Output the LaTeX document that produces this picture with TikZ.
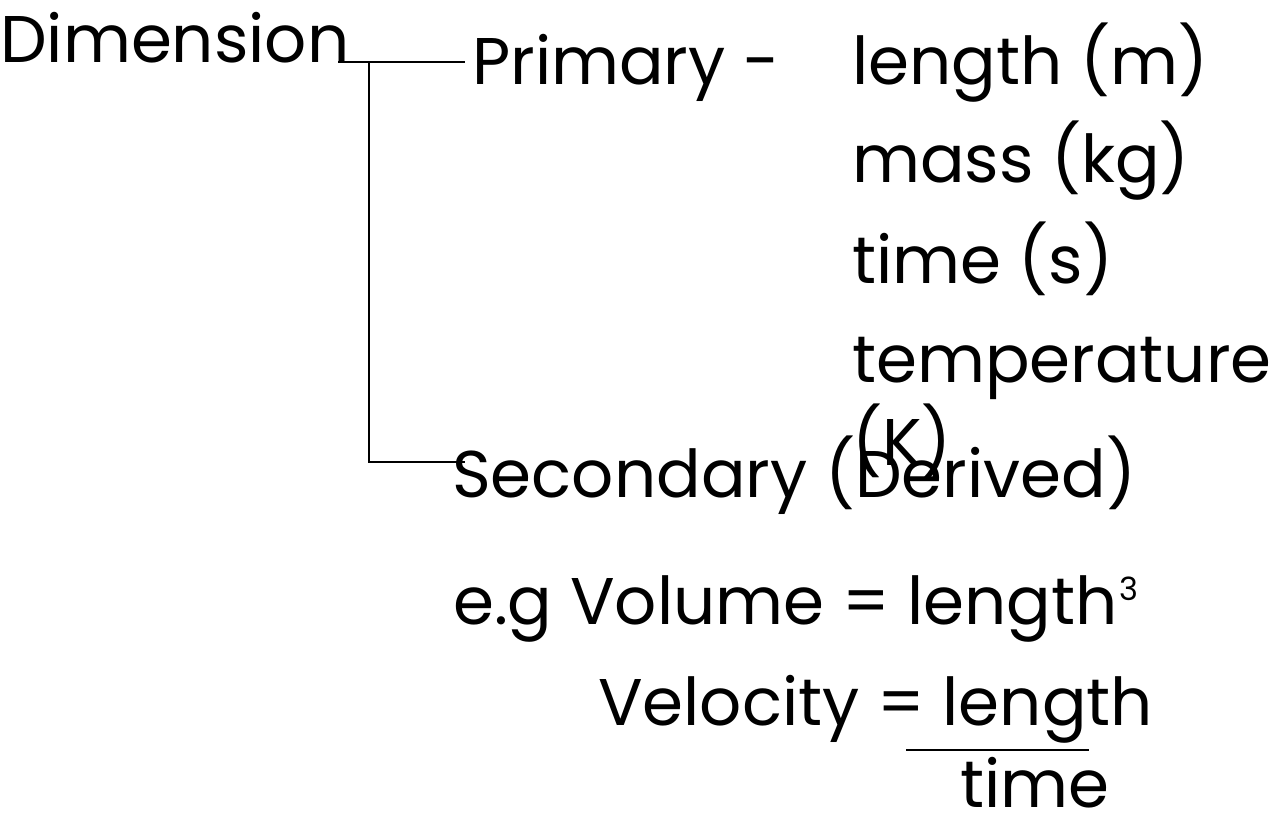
\documentclass[tikz,border=0pt]{standalone}
\usepackage{fontspec}
\setmainfont{Poppins}
\begin{document}
\begin{tikzpicture}[x=1pt,y=-1pt,
  txt/.style={anchor=base west,inner sep=0pt,font=\fontsize{66}{70}\selectfont},
  conn/.style={line width=1.3pt}]
\useasboundingbox (0,0) rectangle (1284,828);
\node[txt] (dim) at (0,62) {Dimension};
\node[txt] (pri) at (472,84) {Primary -};
\node[txt] (len) at (852,84) {length (m)};
\node[txt] (mass) at (852,182) {mass (kg)};
\node[txt] (time) at (852,283) {time (s)};
\node[txt] (temp) at (852,382) {temperature};
\node[txt] (k) at (852,465) {(K)};
\node[txt] (sec) at (452,497) {Secondary (Derived)};
\node[txt] (vol) at (453,624) {e.g Volume = length\kern2pt\raisebox{24pt}{\fontsize{32}{32}\selectfont 3}};
\node[txt] (vel) at (598,725) {Velocity = length};
\node[txt] (tm) at (960,807) {time};
\coordinate (a) at (338,62);
\coordinate (j) at (369,62);
\coordinate (b) at (465,62);
\coordinate (c) at (369,462);
\coordinate (d) at (465,462);
\coordinate (f1) at (906,750);
\coordinate (f2) at (1089,750);
\draw[conn] (a) -- (b);
\draw[conn] (j) -- (c) -- (d);
\draw[conn] (f1) -- (f2);
\end{tikzpicture}
\end{document}
